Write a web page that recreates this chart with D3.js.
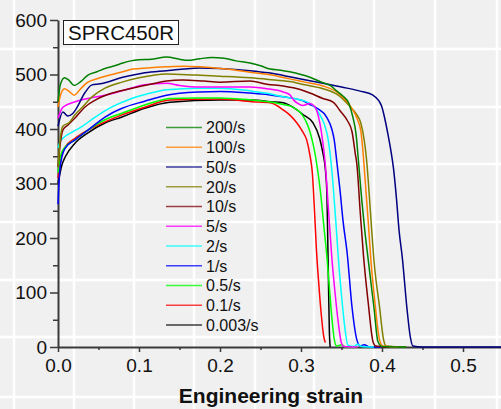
<!DOCTYPE html>
<html>
<head>
<meta charset="utf-8">
<script src="https://cdn.jsdelivr.net/npm/d3@7"></script>
<style>
	body { margin: 0; background: #f0f0f0; }
	svg { display: block; font-family: "Liberation Sans", Arial, sans-serif; }
</style>
</head>
<body>
<div id="container"></div>
<script>
// strain rates (legend order) and their curves, [engineering strain, stress MPa]
var rates = ['200/s', '100/s', '50/s', '20/s', '10/s', '5/s', '2/s', '1/s', '0.5/s', '0.1/s', '0.003/s'];
var colors = ['#008000', '#ff8000', '#000080', '#808000', '#800000', '#ff00ff', '#00ffff', '#0000ff', '#00ff00', '#ff0000', '#000000'];

var xTicks = [0, 0.1, 0.2, 0.3, 0.4, 0.5];
var xMinor = [0.05, 0.15, 0.25, 0.35, 0.45, 0.55];
var yTicks = [0, 100, 200, 300, 400, 500, 600];
var yMinor = [50, 150, 250, 350, 450, 550];

var c200 = [[0,450],[0.003,482],[0.008,494],[0.013,490],[0.02,480],[0.028,487],[0.037,499],[0.048,505],[0.058,511],[0.07,516],[0.08,521],[0.09,525],[0.1,527],[0.115,528],[0.134,532],[0.15,528],[0.16,526],[0.175,529],[0.19,531],[0.205,530],[0.22,525],[0.237,521],[0.25,516],[0.262,510],[0.275,508],[0.286,505],[0.311,495],[0.327,485],[0.336,480],[0.344,470],[0.352,460],[0.359,447],[0.364,422],[0.368,390],[0.371,340],[0.375,270],[0.379,210],[0.383,160],[0.39,73],[0.395,10],[0.4,1],[0.43,0]];
var c100 = [[0,440],[0.003,462],[0.008,474],[0.013,470],[0.02,462],[0.028,474],[0.036,485],[0.05,493],[0.064,499],[0.08,505],[0.093,510],[0.11,512],[0.134,514],[0.155,515],[0.175,514],[0.2,511],[0.22,508],[0.237,504],[0.26,500],[0.286,492],[0.305,486],[0.327,479],[0.344,468],[0.352,458],[0.36,444],[0.369,420],[0.374,395],[0.377,350],[0.38,290],[0.383,230],[0.386,165],[0.391,86],[0.397,13],[0.401,2],[0.42,0]];
var c50 = [[0,405],[0.006,431],[0.012,424],[0.018,428],[0.022,436],[0.033,466],[0.042,481],[0.052,483],[0.058,485],[0.08,495],[0.093,499],[0.107,503],[0.134,507],[0.155,510],[0.175,512],[0.2,511],[0.237,507],[0.26,503],[0.286,496],[0.303,491],[0.327,484],[0.35,477],[0.372,470],[0.389,462],[0.396,452],[0.4,440],[0.403,422],[0.407,393],[0.411,360],[0.414,330],[0.418,270],[0.421,215],[0.425,165],[0.431,68],[0.435,18],[0.438,2],[0.45,0],[0.55,0]];
var c20 = [[0,330],[0.003,385],[0.006,405],[0.014,412],[0.021,426],[0.03,440],[0.042,459],[0.058,475],[0.079,486],[0.1,494],[0.134,501],[0.17,499],[0.2,497],[0.237,494],[0.26,491],[0.286,487],[0.305,481],[0.327,474],[0.346,462],[0.36,442],[0.368,428],[0.374,410],[0.378,380],[0.381,343],[0.384,285],[0.387,220],[0.39,160],[0.397,73],[0.402,13],[0.405,2],[0.43,0]];
var c10 = [[0,330],[0.003,375],[0.006,398],[0.012,407],[0.021,420],[0.033,440],[0.046,453],[0.067,466],[0.086,473],[0.12,484],[0.134,488],[0.154,490],[0.18,488],[0.2,486],[0.237,488],[0.258,482],[0.278,479],[0.3,472],[0.311,466],[0.327,456],[0.34,449],[0.348,434],[0.357,416],[0.363,395],[0.367,355],[0.369,335],[0.373,250],[0.377,170],[0.383,81],[0.389,9],[0.392,2],[0.41,0]];
var c5 = [[0,420],[0.006,440],[0.021,450],[0.037,456],[0.058,462],[0.079,470],[0.107,481],[0.134,484],[0.15,480],[0.175,477],[0.2,477],[0.237,477],[0.258,474],[0.278,468],[0.286,463],[0.291,453],[0.296,447],[0.302,443],[0.311,447],[0.317,441],[0.323,413],[0.327,375],[0.33,335],[0.334,250],[0.338,165],[0.342,100],[0.346,45],[0.35,7],[0.353,1],[0.37,0]];
var c2 = [[0,365],[0.003,378],[0.006,383],[0.017,394],[0.029,404],[0.046,422],[0.066,440],[0.091,456],[0.12,468],[0.134,472],[0.175,475],[0.2,475],[0.237,470],[0.26,465],[0.278,459],[0.303,452],[0.315,443],[0.323,427],[0.329,408],[0.333,385],[0.337,340],[0.34,290],[0.343,230],[0.346,165],[0.35,95],[0.354,37],[0.358,3],[0.365,1],[0.37,5],[0.375,1],[0.39,0]];
var c1 = [[0,262],[0.002,320],[0.005,350],[0.009,365],[0.021,380],[0.037,398],[0.058,422],[0.079,438],[0.107,451],[0.134,462],[0.175,468],[0.2,469],[0.237,466],[0.26,463],[0.278,459],[0.302,452],[0.311,445],[0.32,438],[0.332,421],[0.338,400],[0.341,380],[0.344,343],[0.348,290],[0.352,230],[0.357,172],[0.363,73],[0.369,13],[0.373,2],[0.378,4],[0.385,0],[0.4,0]];
var c05 = [[0,320],[0.004,355],[0.009,367],[0.021,380],[0.037,398],[0.058,417],[0.079,429],[0.107,444],[0.12,450],[0.138,456],[0.17,457],[0.2,457],[0.24,453],[0.26,450],[0.278,445],[0.29,440],[0.302,425],[0.308,408],[0.312,390],[0.316,365],[0.32,330],[0.324,285],[0.328,225],[0.332,165],[0.335,110],[0.338,55],[0.341,15],[0.344,2],[0.35,4],[0.355,0],[0.37,0]];
var c01 = [[0,310],[0.004,350],[0.009,367],[0.021,383],[0.037,398],[0.058,413],[0.079,426],[0.107,440],[0.138,453],[0.2,455],[0.24,450],[0.262,448],[0.278,435],[0.286,426],[0.295,411],[0.302,395],[0.307,380],[0.311,352],[0.314,320],[0.317,240],[0.319,180],[0.322,115],[0.325,60],[0.328,20],[0.33,8]];
var c0003 = [[0,300],[0.005,335],[0.009,349],[0.021,374],[0.037,393],[0.058,411],[0.079,422],[0.107,438],[0.138,449],[0.2,453],[0.24,453],[0.262,450],[0.278,448],[0.29,440],[0.302,427],[0.315,411],[0.323,383],[0.327,356],[0.33,327],[0.332,280],[0.333,200],[0.334,110],[0.335,30],[0.336,0]];

var curves = [c200, c100, c50, c20, c10, c5, c2, c1, c05, c01, c0003];

// page background grid (part of the screenshot backdrop)
var gridX = [14, 74, 134, 194, 255, 314, 374, 435, 497];
var gridY = [49, 107, 164, 222, 280, 337, 397];

var width = 501,
	height = 409;

var svg = d3.select('#container').append('svg')
	.attr('width', width)
	.attr('height', height);

svg.append('rect')
	.attr('width', width)
	.attr('height', height)
	.style('fill', '#f0f0f0');

svg.selectAll('.gx').data(gridX).enter().append('line')
	.attr('x1', function(d) { return d; })
	.attr('x2', function(d) { return d; })
	.attr('y1', 0)
	.attr('y2', height)
	.attr('stroke', '#fff')
	.attr('stroke-width', 2.5);

svg.selectAll('.gy').data(gridY).enter().append('line')
	.attr('x1', 0)
	.attr('x2', width)
	.attr('y1', function(d) { return d; })
	.attr('y2', function(d) { return d; })
	.attr('stroke', '#fff')
	.attr('stroke-width', 2.5);

var x = d3.scaleLinear().domain([0, 0.55]).range([58, 58 + 0.55 * 810]);
var y = d3.scaleLinear().domain([0, 600]).range([347, 20]);

// axes
var axisColor = '#3a3a3a';

var gy = svg.append('g').attr('transform', 'translate(' + x(0) + ',0)')
	.call(d3.axisLeft(y).tickValues(yTicks).tickSize(8).tickSizeOuter(0).tickPadding(3));
svg.append('g').attr('transform', 'translate(' + x(0) + ',0)')
	.call(d3.axisLeft(y).tickValues(yMinor).tickSize(5).tickFormat(''))
	.call(function(g) { g.select('.domain').remove(); });

var gx = svg.append('g').attr('transform', 'translate(0,' + y(0) + ')')
	.call(d3.axisBottom(x).tickValues(xTicks).tickSize(5).tickSizeOuter(0).tickPadding(7).tickFormat(d3.format('.1f')));
svg.append('g').attr('transform', 'translate(0,' + y(0) + ')')
	.call(d3.axisBottom(x).tickValues(xMinor).tickSize(3).tickFormat(''))
	.call(function(g) { g.select('.domain').remove(); });

svg.selectAll('.domain').attr('stroke', axisColor).attr('stroke-width', 2);
svg.selectAll('.tick line').attr('stroke', axisColor).attr('stroke-width', 1.5);
svg.selectAll('.tick text')
	.attr('fill', '#111')
	.style('font-size', '19px')
	.style('font-family', '"Liberation Sans", Arial, sans-serif');

// curves
var line = d3.line()
	.x(function(d) { return x(d[0]); })
	.y(function(d) { return y(d[1]); })
	.curve(d3.curveMonotoneX);

for (var i = curves.length - 1; i >= 0; i--) {
	svg.append('path')
		.datum(curves[i])
		.attr('d', line)
		.attr('fill', 'none')
		.attr('stroke', colors[i])
		.attr('stroke-width', 1.5);
}

// title box
svg.append('rect')
	.attr('x', 63.5)
	.attr('y', 20.5)
	.attr('width', 115)
	.attr('height', 24)
	.style('fill', '#fff')
	.attr('stroke', '#222')
	.attr('stroke-width', 1);

svg.append('text')
	.attr('x', 68)
	.attr('y', 39.5)
	.style('font-size', '20.5px')
	.style('fill', '#111')
	.text('SPRC450R');

// legend
var legend = svg.append('g').attr('transform', 'translate(166,127.5)');
rates.forEach(function(r, i) {
	var row = legend.append('g').attr('transform', 'translate(0,' + (i * 19.75) + ')');
	row.append('line')
		.attr('x1', 0).attr('x2', 36)
		.attr('y1', 0).attr('y2', 0)
		.attr('stroke', colors[i])
		.attr('stroke-opacity', 0.75)
		.attr('stroke-width', 1.5);
	row.append('text')
		.attr('x', 40)
		.attr('dy', '0.36em')
		.style('font-size', '16px')
		.style('fill', '#111')
		.text(r);
});

// axis title
svg.append('text')
	.attr('x', 271)
	.attr('y', 403)
	.attr('text-anchor', 'middle')
	.style('font-size', '21px')
	.style('font-weight', 'bold')
	.style('fill', '#111')
	.text('Engineering strain');
</script>
</body>
</html>
